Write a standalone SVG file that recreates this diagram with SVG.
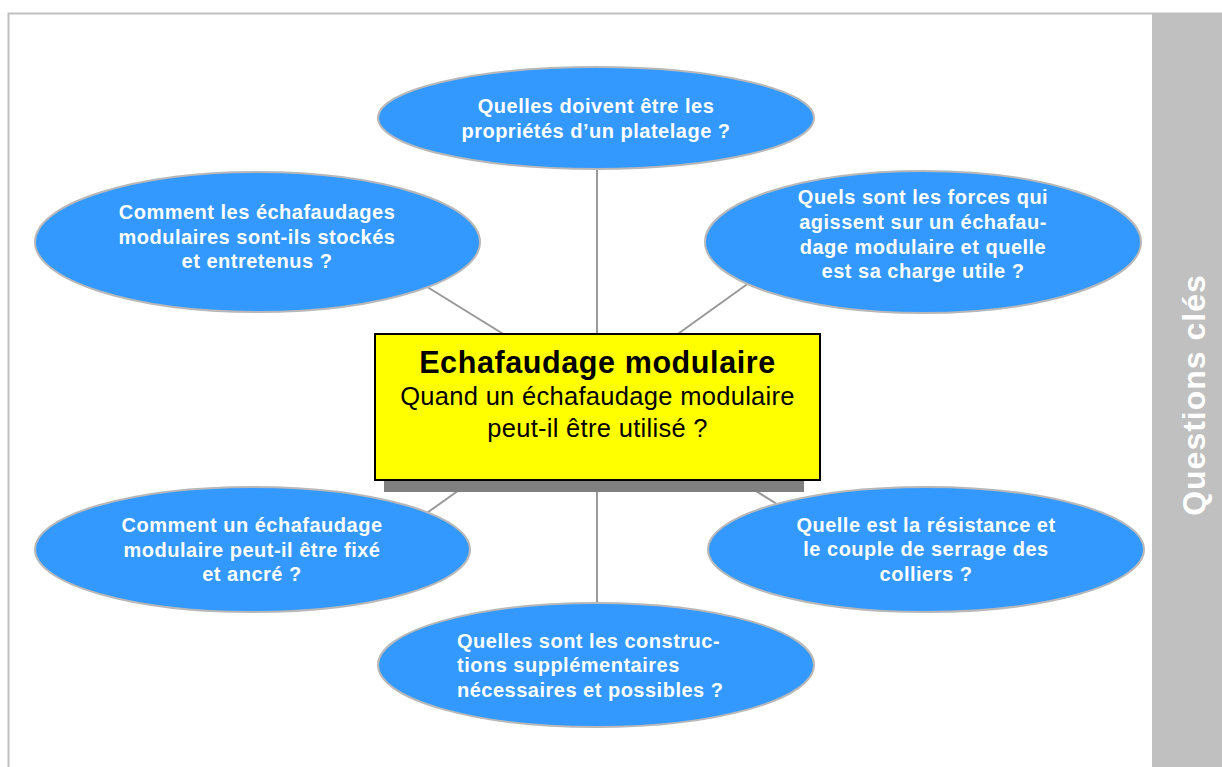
<svg xmlns="http://www.w3.org/2000/svg" width="1222" height="767" viewBox="0 0 1222 767">
<style>
.q{fill:#3399ff;stroke:#b8b8b8;stroke-width:2}
.qt{font-family:"Liberation Sans",Arial,sans-serif;font-weight:bold;font-size:20px;fill:#ffffff;letter-spacing:0.5px}
.c{text-anchor:middle}
.ln{stroke:#999999;stroke-width:2;fill:none}
</style>
<rect width="1222" height="767" fill="#ffffff"/>
<g id="frame">
<path d="M8.5 767 V13.5 H1152" fill="none" stroke="#c0c0c0" stroke-width="2"/>
<rect x="1152" y="12.5" width="70" height="755" fill="#c0c0c0"/>
<text x="1205" y="395" transform="rotate(-90 1205 395)" text-anchor="middle" font-family="'Liberation Sans',Arial,sans-serif" font-weight="bold" font-size="32" fill="#ffffff" letter-spacing="1">Questions clés</text>
</g>
<g id="connectors">
<line class="ln" x1="597" y1="392" x2="597" y2="160"/>
<line class="ln" x1="597" y1="392" x2="597" y2="610"/>
<line class="ln" x1="597" y1="392" x2="424" y2="285"/>
<line class="ln" x1="597" y1="392" x2="753" y2="280"/>
<line class="ln" x1="597" y1="392" x2="424" y2="515"/>
<line class="ln" x1="597" y1="392" x2="780" y2="506"/>
</g>
<g id="node-top">
<ellipse class="q" cx="596" cy="118" rx="218" ry="51"/>
<text class="qt c"><tspan x="596" y="113">Quelles doivent être les</tspan><tspan x="596" y="138">propriétés d’un platelage ?</tspan></text>
</g>
<g id="node-top-left">
<ellipse class="q" cx="257.5" cy="242" rx="222.5" ry="70"/>
<text class="qt c"><tspan x="257" y="219">Comment les échafaudages</tspan><tspan x="257" y="244">modulaires sont-ils stockés</tspan><tspan x="257" y="268">et entretenus ?</tspan></text>
</g>
<g id="node-top-right">
<ellipse class="q" cx="923" cy="242" rx="218" ry="71"/>
<text class="qt c"><tspan x="923" y="204">Quels sont les forces qui</tspan><tspan x="923" y="229">agissent sur un échafau-</tspan><tspan x="923" y="254">dage modulaire et quelle</tspan><tspan x="923" y="278">est sa charge utile ?</tspan></text>
</g>
<g id="node-bottom-left">
<ellipse class="q" cx="252.5" cy="549.5" rx="217.5" ry="62.5"/>
<text class="qt c"><tspan x="252" y="532">Comment un échafaudage</tspan><tspan x="252" y="557">modulaire peut-il être fixé</tspan><tspan x="252" y="581">et ancré ?</tspan></text>
</g>
<g id="node-bottom-right">
<ellipse class="q" cx="926" cy="549.5" rx="218" ry="62.5"/>
<text class="qt c"><tspan x="926" y="532">Quelle est la résistance et</tspan><tspan x="926" y="556">le couple de serrage des</tspan><tspan x="926" y="581">colliers ?</tspan></text>
</g>
<g id="node-bottom">
<ellipse class="q" cx="596" cy="665" rx="218" ry="62"/>
<text class="qt"><tspan x="457" y="648">Quelles sont les construc-</tspan><tspan x="457" y="672">tions supplémentaires</tspan><tspan x="457" y="697">nécessaires et possibles ?</tspan></text>
</g>
<g id="node-center">
<rect x="384" y="470" width="420" height="22" fill="#808080"/>
<rect x="375" y="334" width="445" height="146" fill="#ffff00" stroke="#000000" stroke-width="2"/>
<text x="597.5" y="373" text-anchor="middle" font-family="'Liberation Sans',Arial,sans-serif" font-weight="bold" font-size="30.5" letter-spacing="0.6" fill="#000000">Echafaudage modulaire</text>
<text text-anchor="middle" font-family="'Liberation Sans',Arial,sans-serif" font-size="25.5" letter-spacing="0.3" fill="#000000"><tspan x="597.5" y="405">Quand un échafaudage modulaire</tspan><tspan x="597.5" y="437">peut-il être utilisé ?</tspan></text>
</g>
</svg>
